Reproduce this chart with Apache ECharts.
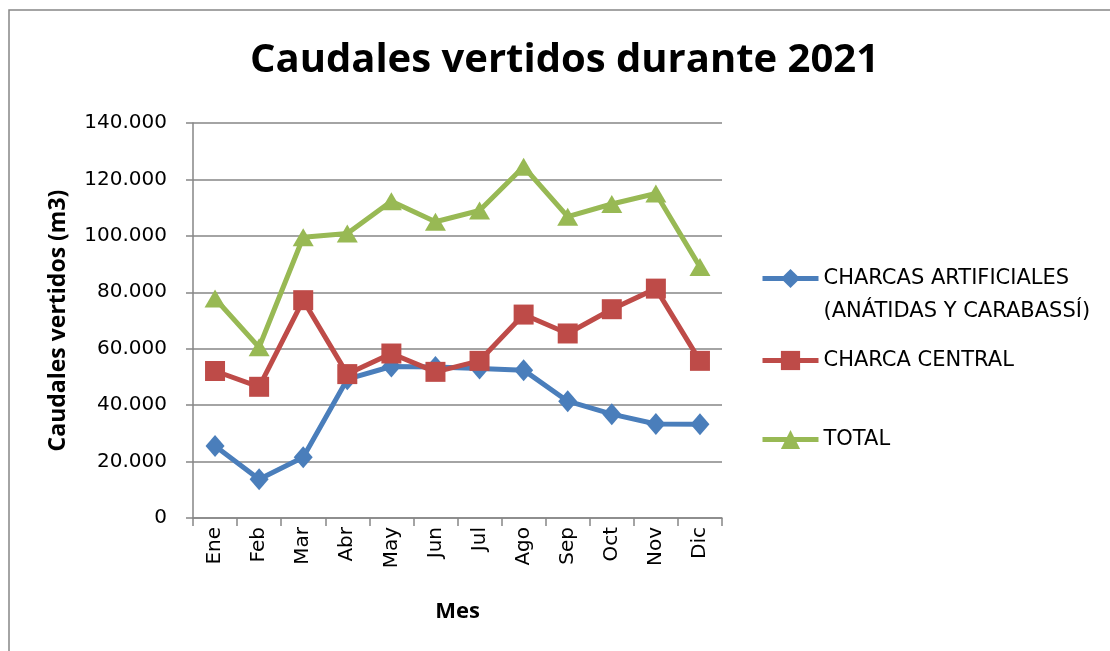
<!DOCTYPE html>
<html>
<head>
    <meta charset="utf-8">
    <title>Caudales vertidos durante 2021</title>
    <script src="https://cdn.jsdelivr.net/npm/echarts@6/dist/echarts.min.js"></script>
    <style>
        html, body { margin: 0; padding: 0; background: #fff; }
        #main { width: 1110px; height: 651px; }
    </style>
</head>
<body>
    <div id="main"></div>
    <script>
        var months = ['Ene', 'Feb', 'Mar', 'Abr', 'May', 'Jun', 'Jul', 'Ago', 'Sep', 'Oct', 'Nov', 'Dic'];
        var charcasArtificiales = [25500, 13700, 21500, 49200, 53700, 53500, 53000, 52400, 41400, 36800, 33300, 33200];
        var charcaCentral = [52100, 46500, 77200, 51000, 58300, 51800, 55700, 72100, 65400, 74000, 81300, 55700];
        var total = [77800, 60500, 99500, 100800, 112300, 105000, 109000, 124500, 106800, 111300, 115000, 89000];

        var nameArt = 'CHARCAS ARTIFICIALES (ANÁTIDAS Y CARABASSÍ)';
        var nameCen = 'CHARCA CENTRAL';
        var nameTot = 'TOTAL';

        var axisGray = '#868686';

        function fmt(v) {
            if (v === 0) return '0';
            return String(v).replace(/\B(?=(\d{3})+(?!\d))/g, '.');
        }

        var myChart = echarts.init(document.getElementById('main'));

        var legendBase = {
            orient: 'vertical',
            left: 760,
            padding: 0,
            itemWidth: 56,
            itemHeight: 24,
            lineStyle: { width: 5 },
            textStyle: { fontFamily: 'DejaVu Sans', fontSize: 21, color: '#000', lineHeight: 33 }
        };

        var option = {
            animation: false,
            title: {
                text: 'Caudales vertidos durante 2021',
                left: 250,
                top: 41,
                padding: 0,
                textStyle: { fontFamily: 'Open Sans', fontWeight: 'bold', fontSize: 40, color: '#000' }
            },
            graphic: [{
                type: 'rect',
                shape: { x: 9, y: 10, width: 1200, height: 800 },
                style: { fill: 'none', stroke: axisGray, lineWidth: 1.5 },
                silent: true
            }],
            legend: [
                Object.assign({}, legendBase, {
                    data: [nameArt],
                    top: 229,
                    // leading blank line keeps the icon level with the first text line
                    formatter: function () { return '\nCHARCAS ARTIFICIALES\n(ANÁTIDAS Y CARABASSÍ)'; }
                }),
                Object.assign({}, legendBase, { data: [nameCen], top: 344 }),
                Object.assign({}, legendBase, { data: [nameTot], top: 423 })
            ],
            grid: { left: 193, right: 388, top: 123, bottom: 133 },
            xAxis: {
                type: 'category',
                data: months,
                boundaryGap: true,
                name: 'Mes',
                nameLocation: 'middle',
                nameGap: 83,
                nameTextStyle: { fontFamily: 'Open Sans', fontWeight: 'bold', fontSize: 22, color: '#000' },
                axisLine: { lineStyle: { color: axisGray, width: 1.5 } },
                axisTick: { show: true, length: 8, lineStyle: { color: axisGray, width: 1.5 } },
                axisLabel: { rotate: 90, margin: 9, fontFamily: 'DejaVu Sans', fontSize: 20, color: '#000' }
            },
            yAxis: {
                type: 'value',
                min: 0,
                max: 140000,
                interval: 20000,
                name: 'Caudales vertidos (m3)',
                nameLocation: 'middle',
                nameGap: 123,
                nameTextStyle: { fontFamily: 'Open Sans', fontWeight: 'bold', fontSize: 23, color: '#000' },
                axisLine: { show: true, lineStyle: { color: axisGray, width: 1.5 } },
                axisTick: { show: true, length: 7, lineStyle: { color: axisGray, width: 1.5 } },
                splitLine: { lineStyle: { color: axisGray, width: 1.5 } },
                axisLabel: { margin: 26, fontFamily: 'DejaVu Sans', fontSize: 20, color: '#000', formatter: fmt }
            },
            series: [
                {
                    name: nameArt,
                    type: 'line',
                    data: charcasArtificiales,
                    symbol: 'diamond',
                    symbolSize: [19, 22],
                    lineStyle: { color: '#4A7EBB', width: 5 },
                    itemStyle: { color: '#4A7EBB' }
                },
                {
                    name: nameCen,
                    type: 'line',
                    data: charcaCentral,
                    symbol: 'rect',
                    symbolSize: 20,
                    lineStyle: { color: '#BE4B48', width: 5 },
                    itemStyle: { color: '#BE4B48' }
                },
                {
                    name: nameTot,
                    type: 'line',
                    data: total,
                    symbol: 'triangle',
                    symbolSize: [21, 18],
                    lineStyle: { color: '#98B954', width: 5 },
                    itemStyle: { color: '#98B954' }
                }
            ]
        };

        myChart.setOption(option);

        window.onresize = function () {
            myChart.resize();
        };
    </script>
</body>
</html>
